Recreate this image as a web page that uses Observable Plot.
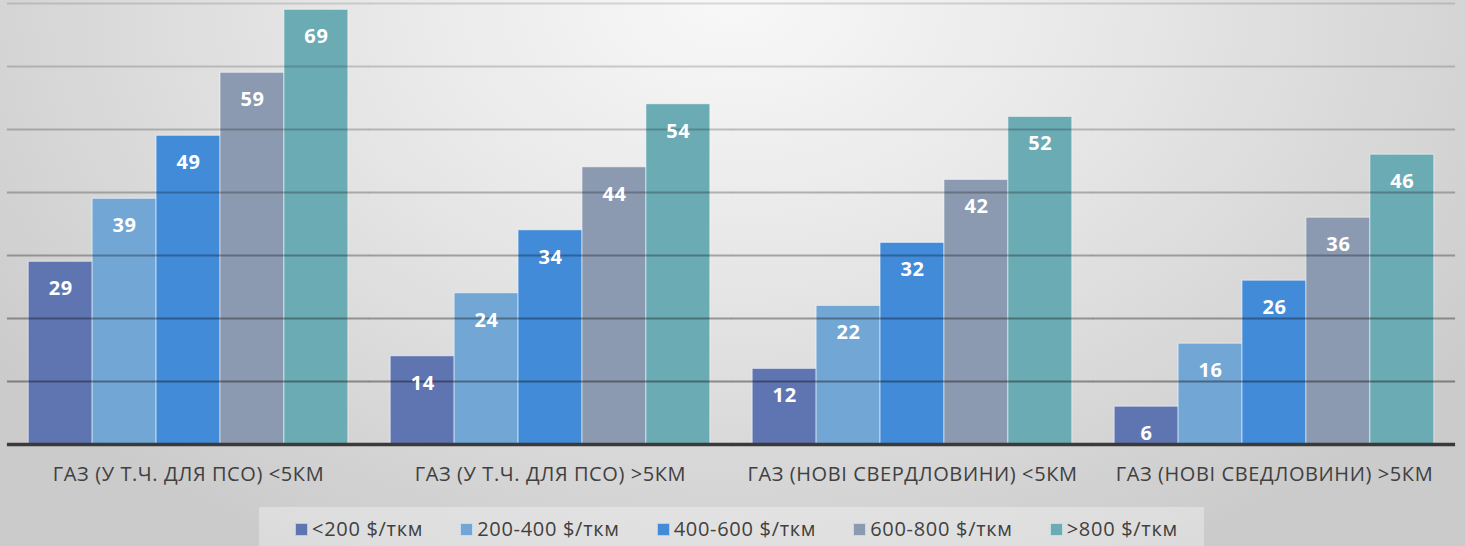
<!DOCTYPE html>
<html>
<head>
<meta charset="utf-8">
<script src="https://cdn.jsdelivr.net/npm/d3@7"></script>
<script src="https://cdn.jsdelivr.net/npm/@observablehq/plot@0.6"></script>
<style>
  html, body { margin: 0; padding: 0; }
  body {
    width: 1465px; height: 546px; overflow: hidden;
    background: radial-gradient(ellipse 62% 115% at 50% 0%, #f8f8f8 0%, #e8e8e8 40%, #cbcbcb 100%);
    font-family: "Open Sans", sans-serif;
  }
  #chart svg { display: block; background: transparent; }
  #chart svg text { letter-spacing: 0.6px; }
  #legend {
    position: absolute; left: 259px; top: 507px; width: 945px; height: 39px;
    background: rgba(255,255,255,0.32);
    display: flex; flex-wrap: nowrap; align-items: center; box-sizing: border-box; padding-left: 36px; padding-top: 5px;
    font-size: 20px; line-height: 1; color: #404040; letter-spacing: 0.7px; white-space: nowrap;
  }
  .item { display: flex; align-items: center; margin-right: 37px; flex: 0 0 auto; white-space: nowrap; }
  .sw { flex: 0 0 auto; width: 13px; height: 13px; margin-right: 4px; box-sizing: border-box; border: 1px solid rgba(255,255,255,0.6); }
</style>
</head>
<body>
<div id="chart"></div>
<div id="legend"></div>
<script>
const categories = [
  "ГАЗ (У Т.Ч. ДЛЯ ПСО) <5КМ",
  "ГАЗ (У Т.Ч. ДЛЯ ПСО) >5КМ",
  "ГАЗ (НОВІ СВЕРДЛОВИНИ) <5КМ",
  "ГАЗ (НОВІ СВЕДЛОВИНИ) >5КМ"
];
const series = ["<200 $/ткм", "200-400 $/ткм", "400-600 $/ткм", "600-800 $/ткм", ">800 $/ткм"];
const v200 = [29, 14, 12, 6];
const v400 = [39, 24, 22, 16];
const v600 = [49, 34, 32, 26];
const v800 = [59, 44, 42, 36];
const vOver = [69, 54, 52, 46];
const colors = ["#5f75b2", "#71a6d5", "#428bd8", "#8b9ab0", "#6babb4"];
const gridTicks = [10, 20, 30, 40, 50, 60, 70];

const seriesValues = [v200, v400, v600, v800, vOver];
const table = [];
categories.forEach((c, i) => {
  series.forEach((s, j) => table.push({category: c, series: s, value: seriesValues[j][i]}));
});

const chart = Plot.plot({
  width: 1465,
  height: 505,
  marginLeft: 7,
  marginRight: 10,
  marginTop: 3,
  marginBottom: 61,
  facet: {data: table, x: "category", marginLeft: 7, marginRight: 10, marginTop: 3, marginBottom: 61},
  fx: {domain: categories, paddingInner: 0.117, paddingOuter: 0.0586, round: false, axis: "bottom", label: null, tickSize: 0, tickPadding: 22},
  x: {domain: series, axis: null, padding: 0, round: false},
  y: {domain: [0, 70], axis: null},
  color: {domain: series, range: colors},
  style: {fontFamily: "Open Sans", fontSize: "20px", color: "#404040", background: "transparent"},
  marks: [
    Plot.barY(table, {x: "series", y: "value", fill: "series", stroke: "rgba(255,255,255,0.55)", strokeWidth: 1}),
    Plot.ruleY(gridTicks, {stroke: "url(#gridfade)", strokeWidth: 2, insetLeft: -21.3, insetRight: -21.3}),
    Plot.ruleY([0], {stroke: "#3a3a3a", strokeWidth: 3.5, insetLeft: -21.3, insetRight: -21.3}),
    Plot.text(table, {x: "series", y: "value", text: d => String(d.value), dy: 27, fill: "white", fontWeight: "bold", fontSize: 20, fontFamily: "Open Sans"})
  ]
});

// vertical fade for gridline colour
const ns = "http://www.w3.org/2000/svg";
const defs = document.createElementNS(ns, "defs");
defs.innerHTML = `<linearGradient id="gridfade" gradientUnits="userSpaceOnUse" x1="0" y1="0" x2="0" y2="444">
  <stop offset="0" stop-color="#000" stop-opacity="0.13"/>
  <stop offset="1" stop-color="#000" stop-opacity="0.42"/>
</linearGradient>`;
chart.insertBefore(defs, chart.firstChild);
document.getElementById("chart").appendChild(chart);

const legend = document.getElementById("legend");
series.forEach((s, j) => {
  const item = document.createElement("div");
  item.className = "item";
  const sw = document.createElement("span");
  sw.className = "sw";
  sw.style.background = colors[j];
  const t = document.createElement("span");
  t.textContent = s;
  item.appendChild(sw);
  item.appendChild(t);
  legend.appendChild(item);
});
</script>
</body>
</html>
